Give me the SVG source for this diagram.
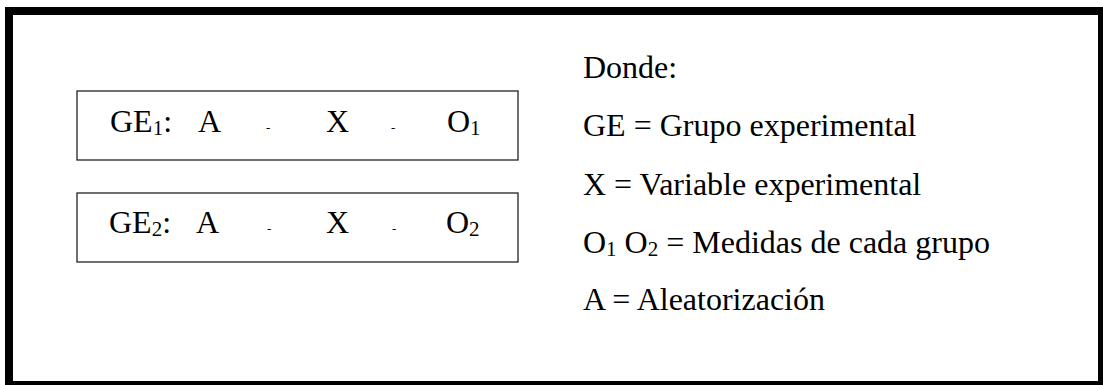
<svg xmlns="http://www.w3.org/2000/svg" width="1103" height="385" viewBox="0 0 1103 385">
<style>
text{font-family:"Liberation Serif","Times New Roman",serif;fill:#000}
.t{font-size:32px}
.sub{font-size:21px}
.d{font-size:13px}
.box{fill:#fff;stroke:#222;stroke-width:1.3}
</style>
<rect x="0" y="0" width="1103" height="385" fill="#fff"/>
<rect x="9" y="11" width="1093" height="374" fill="none" stroke="#000" stroke-width="8"/>
<g id="ge1">
<rect class="box" x="77" y="91" width="441" height="69"/>
<text class="t" x="110" y="132">GE<tspan class="sub" dy="3">1</tspan><tspan dy="-3">:</tspan></text>
<text class="t" x="198" y="132">A</text>
<text class="d" x="266" y="132">-</text>
<text class="t" x="326" y="132">X</text>
<text class="d" x="391" y="132">-</text>
<text class="t" x="447" y="132">O<tspan class="sub" dy="3">1</tspan></text>
</g>
<g id="ge2">
<rect class="box" x="77" y="193" width="441" height="69"/>
<text class="t" x="109" y="233">GE<tspan class="sub" dy="3">2</tspan><tspan dy="-3">:</tspan></text>
<text class="t" x="196" y="233">A</text>
<text class="d" x="267" y="233">-</text>
<text class="t" x="326" y="233">X</text>
<text class="d" x="392" y="233">-</text>
<text class="t" x="446" y="233">O<tspan class="sub" dy="3">2</tspan></text>
</g>
<g id="legend">
<text class="t" x="583" y="78">Donde:</text>
<text class="t" x="583" y="136">GE = Grupo experimental</text>
<text class="t" x="583" y="195">X = Variable experimental</text>
<text class="t" x="583" y="253">O<tspan class="sub" dy="3">1</tspan><tspan dy="-3"> O</tspan><tspan class="sub" dy="3">2</tspan><tspan dy="-3"> = Medidas de cada grupo</tspan></text>
<text class="t" x="583" y="310">A = Aleatorización</text>
</g>
<g id="connectors"/>
</svg>
